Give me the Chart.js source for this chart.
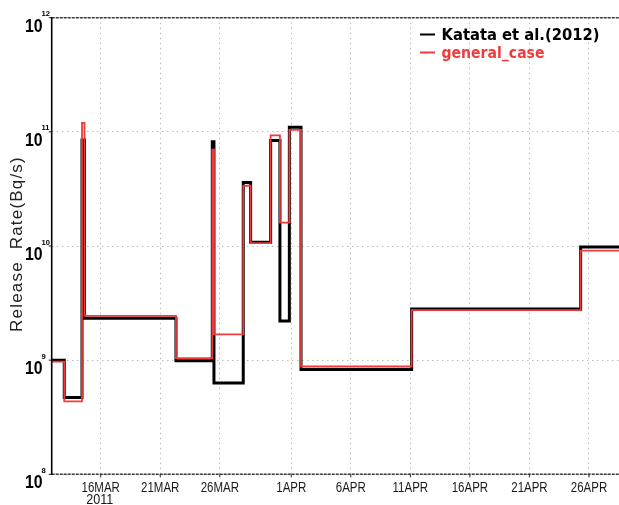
<!DOCTYPE html>
<html>
<head>
<meta charset="utf-8">
<script src="https://cdn.jsdelivr.net/npm/chart.js@4.4.1/dist/chart.umd.min.js"></script>
<style>
  html, body { margin: 0; padding: 0; background: #ffffff; }
  #wrap { width: 619px; height: 505px; }
</style>
</head>
<body>
<div id="wrap"><canvas id="c" width="619" height="505"></canvas></div>
<script>
// Time axis in days of March 2011 (UTC); 32 = 1 APR, 42 = 11 APR, ...
const periodStart = 11.886;
const periodEnd = 59.52;

// Start time of each constant-release interval
const releaseStart = [11.886, 12.94, 14.43, 14.64, 22.32, 25.37, 25.51, 27.97, 28.59, 30.27, 31.05, 31.84, 32.82, 42.11, 56.30];

// Release rate (Bq/s) held over each interval
const katataRate  = [1.0e9, 4.7e8, 8.5e10, 2.33e9, 9.9e8, 8.2e10, 6.3e8, 3.6e10, 1.08e10, 8.4e10, 2.2e9, 1.1e11, 8.3e8, 2.8e9, 9.8e9];
const generalRate = [9.7e8, 4.35e8, 1.2e11, 2.44e9, 1.04e9, 7.0e10, 1.68e9, 3.37e10, 1.06e10, 9.3e10, 1.6e10, 1.04e11, 8.8e8, 2.74e9, 9.1e9];

const seriesNames = ['Katata et al.(2012)', 'general_case'];
const seriesColors = ['#000000', '#f23a3a'];

const xTickDays   = [16, 21, 26, 32, 37, 42, 47, 52, 57];
const xTickLabels = ['16MAR', '21MAR', '26MAR', '1APR', '6APR', '11APR', '16APR', '21APR', '26APR'];
const yearLabel = '2011';
const yTickValues = [1e8, 1e9, 1e10, 1e11, 1e12];
const yTitle = 'Release  Rate(Bq/s)';

function stepPoints(starts, rates) {
  const pts = starts.map((t, i) => ({ x: t, y: rates[i] }));
  pts.push({ x: periodEnd, y: rates[rates.length - 1] });
  return pts;
}

function scaledText(ctx, text, x, y, sx, align) {
  ctx.save();
  ctx.translate(x, y);
  ctx.scale(sx, 1);
  ctx.textAlign = align;
  ctx.fillText(text, 0, 0);
  ctx.restore();
}

function fittedText(ctx, text, x, y, width) {
  const w = ctx.measureText(text).width;
  scaledText(ctx, text, x, y, width / w, 'left');
}

const decorations = {
  id: 'decorations',
  afterDraw(chart) {
    const ctx = chart.ctx;
    const a = chart.chartArea;
    const xs = chart.scales.x;
    const ys = chart.scales.y;

    ctx.save();
    // top and bottom frame
    ctx.strokeStyle = '#3a3a3a';
    ctx.lineWidth = 1.6;
    ctx.setLineDash([3, 1]);
    ctx.beginPath();
    ctx.moveTo(a.left, a.top); ctx.lineTo(a.right, a.top);
    ctx.moveTo(a.left, a.bottom); ctx.lineTo(a.right, a.bottom);
    ctx.stroke();
    ctx.setLineDash([]);

    // left axis
    ctx.strokeStyle = '#000';
    ctx.lineWidth = 1.6;
    ctx.beginPath();
    ctx.moveTo(a.left, a.top - 0.8); ctx.lineTo(a.left, a.bottom + 0.8);
    ctx.stroke();

    // x tick marks and labels
    ctx.lineWidth = 1;
    ctx.strokeStyle = '#222';
    ctx.fillStyle = '#1a1a1a';
    ctx.font = '14px "Liberation Sans", Arial, sans-serif';
    ctx.textBaseline = 'alphabetic';
    xTickDays.forEach((d, i) => {
      const px = xs.getPixelForValue(d);
      ctx.beginPath();
      ctx.moveTo(px, a.bottom); ctx.lineTo(px, a.bottom + 3);
      ctx.stroke();
      scaledText(ctx, xTickLabels[i], px, 492, 0.82, 'center');
      if (i === 0) scaledText(ctx, yearLabel, px - 1, 504, 0.9, 'center');
    });

    // y tick labels as powers of ten
    ctx.fillStyle = '#000';
    yTickValues.forEach(v => {
      const py = ys.getPixelForValue(v);
      const e = Math.round(Math.log10(v));
      ctx.font = 'bold 18px "Liberation Sans", Arial, sans-serif';
      scaledText(ctx, '10', 42.5, py + 14, 0.88, 'right');
      ctx.font = 'bold 8px "Liberation Sans", Arial, sans-serif';
      scaledText(ctx, String(e), 41.5, py - 1.5, 0.95, 'left');
      ctx.beginPath();
      ctx.lineWidth = 1;
      ctx.moveTo(a.left - 3, py); ctx.lineTo(a.left, py);
      ctx.stroke();
    });

    // y axis title
    ctx.save();
    ctx.translate(17, 244);
    ctx.rotate(-Math.PI / 2);
    ctx.font = '17px "Liberation Sans", Arial, sans-serif';
    ctx.fillStyle = '#222';
    ctx.textAlign = 'center';
    ctx.textBaseline = 'alphabetic';
    if ('letterSpacing' in ctx) ctx.letterSpacing = '1.2px';
    ctx.fillText(yTitle, 0, 5);
    ctx.restore();

    // legend
    const legendRows = [{ y: 40, w: 158 }, { y: 58, w: 103 }];
    ctx.font = 'bold 15px "DejaVu Sans", sans-serif';
    chart.data.datasets.forEach((ds, i) => {
      const row = legendRows[i];
      ctx.strokeStyle = ds.borderColor;
      ctx.lineWidth = 2;
      ctx.beginPath();
      ctx.moveTo(420, row.y - 5.5); ctx.lineTo(435, row.y - 5.5);
      ctx.stroke();
      ctx.fillStyle = ds.borderColor;
      fittedText(ctx, ds.label, 441.5, row.y, row.w);
    });
    ctx.restore();
  }
};

new Chart(document.getElementById('c'), {
  type: 'line',
  data: {
    datasets: [
      {
        label: seriesNames[0],
        data: stepPoints(releaseStart, katataRate),
        borderColor: seriesColors[0],
        borderWidth: 3,
        order: 2
      },
      {
        label: seriesNames[1],
        data: stepPoints(releaseStart, generalRate),
        borderColor: seriesColors[1],
        borderWidth: 1.8,
        order: 1
      }
    ]
  },
  options: {
    responsive: false,
    devicePixelRatio: 1,
    animation: false,
    events: [],
    layout: { padding: { left: 51.7, top: 17.7, right: 0, bottom: 30.7 } },
    elements: {
      line: { stepped: 'before', tension: 0, fill: false, borderJoinStyle: 'miter', borderCapStyle: 'butt' },
      point: { radius: 0, hoverRadius: 0 }
    },
    plugins: { legend: { display: false }, tooltip: { enabled: false } },
    scales: {
      x: {
        type: 'linear',
        min: periodStart,
        max: periodEnd,
        afterBuildTicks: s => { s.ticks = xTickDays.map(v => ({ value: v })); },
        ticks: { display: false },
        grid: { color: '#bdbdbd', lineWidth: 1, drawTicks: false },
        border: { display: false, dash: [1.5, 3.5] }
      },
      y: {
        type: 'logarithmic',
        min: 1e8,
        max: 1e12,
        afterBuildTicks: s => { s.ticks = yTickValues.map(v => ({ value: v })); },
        ticks: { display: false },
        grid: { color: '#bdbdbd', lineWidth: 1, drawTicks: false },
        border: { display: false, dash: [1.5, 3.5] }
      }
    }
  },
  plugins: [decorations]
});
</script>
</body>
</html>
